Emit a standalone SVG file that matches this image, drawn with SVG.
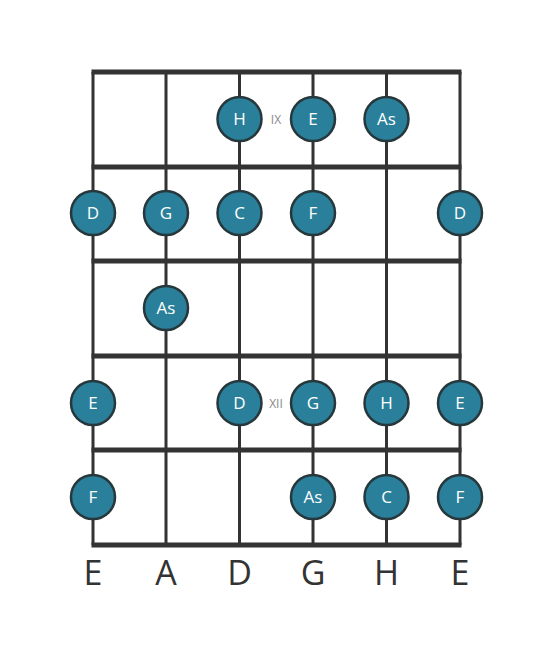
<svg xmlns="http://www.w3.org/2000/svg" width="553" height="656" viewBox="0 0 553 656">
<style>
.fret{stroke:#333;stroke-width:5}
.str{stroke:#333;stroke-width:3}
.dot circle{fill:#2a7f9a;stroke:#27383d;stroke-width:2.5}
.dot text{fill:#fff;font-family:"Open Sans",sans-serif;font-size:17px;text-anchor:middle}
.pos{fill:#888;font-family:"Open Sans",sans-serif;font-size:12px;text-anchor:middle}
.sl{fill:#333;font-family:"Open Sans",sans-serif;font-size:34px;text-anchor:middle}
</style>
<rect width="553" height="656" fill="#fff"/>
<g id="connectors">
<line class="str" x1="93" y1="72" x2="93" y2="545"/>
<line class="str" x1="166" y1="72" x2="166" y2="545"/>
<line class="str" x1="239.5" y1="72" x2="239.5" y2="545"/>
<line class="str" x1="313" y1="72" x2="313" y2="545"/>
<line class="str" x1="386.5" y1="72" x2="386.5" y2="545"/>
<line class="str" x1="460" y1="72" x2="460" y2="545"/>
<line class="fret" x1="91.5" y1="72" x2="461.5" y2="72"/>
<line class="fret" x1="91.5" y1="167" x2="461.5" y2="167"/>
<line class="fret" x1="91.5" y1="261" x2="461.5" y2="261"/>
<line class="fret" x1="91.5" y1="356" x2="461.5" y2="356"/>
<line class="fret" x1="91.5" y1="450" x2="461.5" y2="450"/>
<line class="fret" x1="91.5" y1="545" x2="461.5" y2="545"/>
</g>
<text class="pos" x="276" y="124">IX</text>
<text class="pos" x="276" y="408">XII</text>
<g id="n1" class="dot"><circle cx="239.5" cy="119" r="22"/><text x="239.5" y="125">H</text></g>
<g id="n2" class="dot"><circle cx="313" cy="119" r="22"/><text x="313" y="125">E</text></g>
<g id="n3" class="dot"><circle cx="386.5" cy="119" r="22"/><text x="386.5" y="125">As</text></g>
<g id="n4" class="dot"><circle cx="93" cy="213" r="22"/><text x="93" y="219">D</text></g>
<g id="n5" class="dot"><circle cx="166" cy="213" r="22"/><text x="166" y="219">G</text></g>
<g id="n6" class="dot"><circle cx="239.5" cy="213" r="22"/><text x="239.5" y="219">C</text></g>
<g id="n7" class="dot"><circle cx="313" cy="213" r="22"/><text x="313" y="219">F</text></g>
<g id="n8" class="dot"><circle cx="460" cy="213" r="22"/><text x="460" y="219">D</text></g>
<g id="n9" class="dot"><circle cx="166" cy="308" r="22"/><text x="166" y="314">As</text></g>
<g id="n10" class="dot"><circle cx="93" cy="403" r="22"/><text x="93" y="409">E</text></g>
<g id="n11" class="dot"><circle cx="239.5" cy="403" r="22"/><text x="239.5" y="409">D</text></g>
<g id="n12" class="dot"><circle cx="313" cy="403" r="22"/><text x="313" y="409">G</text></g>
<g id="n13" class="dot"><circle cx="386.5" cy="403" r="22"/><text x="386.5" y="409">H</text></g>
<g id="n14" class="dot"><circle cx="460" cy="403" r="22"/><text x="460" y="409">E</text></g>
<g id="n15" class="dot"><circle cx="93" cy="497" r="22"/><text x="93" y="503">F</text></g>
<g id="n16" class="dot"><circle cx="313" cy="497" r="22"/><text x="313" y="503">As</text></g>
<g id="n17" class="dot"><circle cx="386.5" cy="497" r="22"/><text x="386.5" y="503">C</text></g>
<g id="n18" class="dot"><circle cx="460" cy="497" r="22"/><text x="460" y="503">F</text></g>
<text class="sl" x="93" y="585">E</text>
<text class="sl" x="166" y="585">A</text>
<text class="sl" x="239.5" y="585">D</text>
<text class="sl" x="313" y="585">G</text>
<text class="sl" x="386.5" y="585">H</text>
<text class="sl" x="460" y="585">E</text>
</svg>
